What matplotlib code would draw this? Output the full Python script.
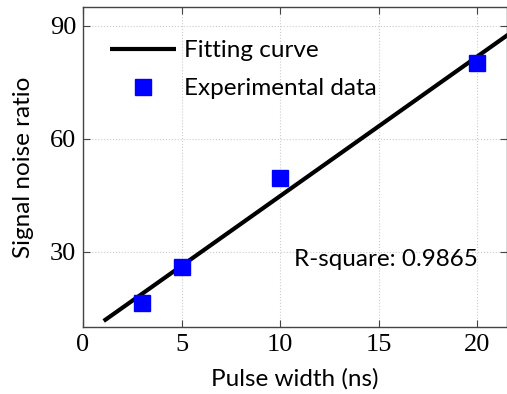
import numpy as np
import matplotlib.pyplot as plt

# data
pulse_width = [3, 5, 10, 20]
snr = [16.5, 26.0, 49.6, 80.0]
fit_x = [1.05, 22.0]
fit_y = [11.6, 89.3]
r_square = 0.9865

fig = plt.figure(figsize=(5.07, 3.94), dpi=100)
ax = fig.add_axes([83 / 507, 67 / 394, 424 / 507, 320 / 394])

ax.plot(fit_x, fit_y, color="black", linewidth=3, label="Fitting curve", solid_capstyle="butt")
ax.plot(pulse_width, snr, linestyle="none", marker="s", markersize=11.5,
        color="#0000ff", label="Experimental data")

ax.set_xlim(0, 21.5)
ax.set_ylim(10, 95)
ax.set_xticks([0, 5, 10, 15, 20])
ax.set_yticks([30, 60, 90])
ax.grid(True, color="#cccccc", linestyle=":", linewidth=0.8)
ax.tick_params(direction="in", top=True, right=True, length=5, width=0.8, color="#444444",
               labelsize=19, pad=5)
for lab in ax.get_xticklabels() + ax.get_yticklabels():
    lab.set_family("Liberation Serif")
for sp in ax.spines.values():
    sp.set_color("#444444")
    sp.set_linewidth(1.0)

ax.set_xlabel("Pulse width (ns)", family="Lato", fontsize=17.5, labelpad=9)
ax.set_ylabel("Signal noise ratio", family="Lato", fontsize=17.5, labelpad=11)
ax.text(10.7, 27.9, f"R-square: {r_square}", family="Lato", fontsize=17.5, va="center")

leg = ax.legend(loc="upper left", frameon=False, prop={"family": "Lato", "size": 17.5},
                handlelength=2.7, handletextpad=0.33, labelspacing=0.7,
                borderaxespad=0.0, borderpad=0.0,
                bbox_to_anchor=(27 / 424, 1 - 33 / 320))

fig.savefig("out.png", dpi=100)
